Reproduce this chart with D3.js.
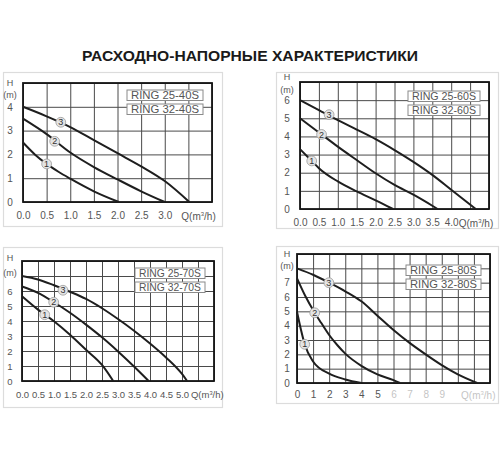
<!DOCTYPE html>
<html><head><meta charset="utf-8">
<script src="https://cdn.jsdelivr.net/npm/d3@7"></script>
<style>body{margin:0;background:#fff}svg{display:block}</style>
</head><body>
<svg id="c" width="500" height="450"></svg>
<script>
// ---------- DATA ----------
const title = "РАСХОДНО-НАПОРНЫЕ ХАРАКТЕРИСТИКИ";
const curveNames = ["1", "2", "3"];

// Panel 1: RING 25-40S / 32-40S
const p1Models = ["RING 25-40S", "RING 32-40S"];
const p1XTicks = [0, 0.5, 1.0, 1.5, 2.0, 2.5, 3.0];
const p1YTicks = [0, 1, 2, 3, 4];
const p1Q1 = [0, 0.25, 0.5, 0.75, 1.0, 1.5, 2.03];
const p1H1 = [2.5, 2.0, 1.6, 1.27, 0.98, 0.45, 0];
const p1Q2 = [0, 0.5, 1.0, 1.5, 2.0, 2.5, 3.0];
const p1H2 = [3.5, 2.85, 2.08, 1.47, 0.95, 0.45, 0];
const p1Q3 = [0, 0.5, 1.0, 1.5, 2.0, 2.5, 3.0, 3.52];
const p1H3 = [4.0, 3.6, 3.15, 2.6, 2.05, 1.5, 0.88, 0];
const p1LabelQ = [0.5, 0.67, 0.8];
const p1LabelH = [1.6, 2.55, 3.35];

// Panel 2: RING 25-60S / 32-60S
const p2Models = ["RING 25-60S", "RING 32-60S"];
const p2XTicks = [0, 0.5, 1.0, 1.5, 2.0, 2.5, 3.0, 3.5, 4.0];
const p2YTicks = [0, 1, 2, 3, 4, 5, 6];
const p2Q1 = [0, 0.31, 0.5, 1.0, 1.5, 2.0, 2.46];
const p2H1 = [3.3, 2.65, 2.25, 1.52, 0.97, 0.48, 0];
const p2Q2 = [0, 0.57, 1.0, 1.5, 2.0, 2.5, 3.0, 3.5, 3.64];
const p2H2 = [5.0, 4.11, 3.44, 2.7, 1.97, 1.33, 0.79, 0.18, 0];
const p2Q3 = [0, 0.5, 1.0, 1.5, 2.0, 2.5, 3.0, 3.5, 4.0, 4.65];
const p2H3 = [6.0, 5.45, 4.9, 4.38, 3.85, 3.25, 2.6, 1.88, 1.06, 0];
const p2LabelQ = [0.31, 0.57, 0.77];
const p2LabelH = [2.65, 4.11, 5.2];

// Panel 3: RING 25-70S / 32-70S
const p3Models = ["RING 25-70S", "RING 32-70S"];
const p3XTicks = [0, 0.5, 1.0, 1.5, 2.0, 2.5, 3.0, 3.5, 4.0, 4.5, 5.0];
const p3YTicks = [0, 1, 2, 3, 4, 5, 6];
const p3Q1 = [0, 0.5, 1.0, 1.5, 2.0, 2.5, 2.85];
const p3H1 = [5.65, 4.76, 3.98, 3.08, 2.08, 1.07, 0];
const p3Q2 = [0, 0.5, 1.0, 1.5, 2.0, 2.5, 3.0, 3.5, 3.96];
const p3H2 = [6.3, 5.88, 5.25, 4.55, 3.76, 2.91, 1.97, 0.97, 0];
const p3Q3 = [0, 0.5, 1.0, 1.5, 2.0, 2.5, 3.0, 3.5, 4.0, 4.5, 5.0, 5.16];
const p3H3 = [7.0, 6.77, 6.38, 5.95, 5.47, 4.85, 4.13, 3.35, 2.5, 1.57, 0.47, 0];
const p3LabelQ = [0.71, 0.99, 1.28];
const p3LabelH = [4.42, 5.25, 6.05];

// Panel 4: RING 25-80S / 32-80S
const p4Models = ["RING 25-80S", "RING 32-80S"];
const p4XTicks = [0, 1, 2, 3, 4, 5, 6, 7, 8, 9];
const p4YTicks = [0, 1, 2, 3, 4, 5, 6, 7];
const p4Q1 = [0, 0.25, 0.48, 1, 2, 3, 4];
const p4H1 = [4.97, 3.7, 2.7, 1.5, 0.65, 0.25, 0];
const p4Q2 = [0, 0.5, 1.1, 1.5, 2, 2.5, 3, 4, 5, 6, 6.4];
const p4H2 = [7.3, 6.1, 4.9, 4.2, 3.35, 2.65, 2.05, 1.2, 0.6, 0.2, 0];
const p4Q3 = [0, 1, 2, 3, 4, 5, 6, 7, 8, 9, 10, 11.2];
const p4H3 = [8.0, 7.55, 7.0, 6.4, 5.7, 4.7, 3.7, 2.8, 2.0, 1.25, 0.6, 0];
const p4LabelQ = [0.48, 1.1, 1.98];
const p4LabelH = [2.7, 4.9, 7.0];

// ---------- LAYOUT ----------
const panels = [
  {models:p1Models, xTicks:p1XTicks, yTicks:p1YTicks, fmt:d3.format(".1f"),
   curves:[[p1Q1,p1H1],[p1Q2,p1H2],[p1Q3,p1H3]], lq:p1LabelQ, lh:p1LabelH,
   outer:[3,72,219,154], plot:{l:23,t:83,r:212,b:202}, xDom:[0,4], xStep:0.5, yDom:[0,5],
   hAt:5.0, mAt:4.5, qAt:3.35, xPad:10, yLab:13, fs:10, lgTop:7, lgW:76},
  {models:p2Models, xTicks:p2XTicks, yTicks:p2YTicks, fmt:d3.format(".1f"),
   curves:[[p2Q1,p2H1],[p2Q2,p2H2],[p2Q3,p2H3]], lq:p2LabelQ, lh:p2LabelH,
   outer:[276,72,222,156], plot:{l:300,t:82,r:489,b:209}, xDom:[0,5], xStep:0.5, yDom:[0,7],
   hAt:7.3, mAt:6.55, qAt:4.2, xPad:10, yLab:13, fs:10, lgTop:9, lgW:72},
  {models:p3Models, xTicks:p3XTicks, yTicks:p3YTicks, fmt:d3.format(".1f"),
   curves:[[p3Q1,p3H1],[p3Q2,p3H2],[p3Q3,p3H3]], lq:p3LabelQ, lh:p3LabelH,
   outer:[3,247,219,160], plot:{l:22,t:261,r:214,b:381}, xDom:[0,6], xStep:0.5, yDom:[0,8],
   hAt:8.2, mAt:7.2, qAt:5.28, xPad:10, yLab:12, fs:9.5, lgTop:7, lgW:70},
  {models:p4Models, xTicks:p4XTicks, yTicks:p4YTicks, fmt:d3.format("d"),
   curves:[[p4Q1,p4H1],[p4Q2,p4H2],[p4Q3,p4H3]], lq:p4LabelQ, lh:p4LabelH,
   outer:[276,246,222,157], plot:{l:297,t:254,r:490,b:383}, xDom:[0,12], xStep:1, yDom:[0,9],
   hAt:9.0, mAt:8.2, qAt:10.2, xPad:8, yLab:10, fs:10, lgTop:11, lgW:75, faded:5}
];

const svg = d3.select("#c");
const FONT = "'Liberation Sans', Arial, sans-serif";

svg.append("text").attr("x", 250).attr("y", 60.5).attr("text-anchor", "middle")
  .attr("font-family", FONT).attr("font-weight", "bold").attr("font-size", 15.5)
  .attr("textLength", 336).attr("lengthAdjust", "spacingAndGlyphs")
  .attr("fill", "#1a1a1a").text(title);

panels.forEach(p => {
  const g = svg.append("g");
  const o = p.outer;
  g.append("rect").attr("x", o[0]+0.5).attr("y", o[1]+0.5).attr("width", o[2]).attr("height", o[3])
    .attr("fill", "none").attr("stroke", "#dcdcdc").attr("stroke-width", 1.2);

  const x = d3.scaleLinear().domain(p.xDom).range([p.plot.l, p.plot.r]);
  const y = d3.scaleLinear().domain(p.yDom).range([p.plot.b, p.plot.t]);
  const h = p.plot.b - p.plot.t, w = p.plot.r - p.plot.l;

  // grid
  const gx = d3.range(p.xDom[0], p.xDom[1] + 1e-9, p.xStep);
  const gy = d3.range(p.yDom[0], p.yDom[1] + 1e-9, 1);
  const gridX = g.append("g").attr("transform", `translate(0,${p.plot.b})`)
    .call(d3.axisBottom(x).tickValues(gx).tickSize(-h).tickFormat(""));
  const gridY = g.append("g").attr("transform", `translate(${p.plot.l},0)`)
    .call(d3.axisLeft(y).tickValues(gy).tickSize(-w).tickFormat(""));
  [gridX, gridY].forEach(a => {
    a.select(".domain").remove();
    a.selectAll("line").attr("stroke", "#4a4a4a").attr("stroke-width", 1);
  });

  // border
  g.append("rect").attr("x", p.plot.l).attr("y", p.plot.t).attr("width", w).attr("height", h)
    .attr("fill", "none").attr("stroke", "#151515").attr("stroke-width", 1.8);

  // legend boxes
  p.models.forEach((m, i) => {
    const bx = p.plot.r - 9 - p.lgW, by = p.plot.t + p.lgTop + i * 14;
    g.append("rect").attr("x", bx).attr("y", by).attr("width", p.lgW).attr("height", 10.5)
      .attr("fill", "#fff").attr("stroke", "#8a8a8a").attr("stroke-width", 1);
    g.append("text").attr("x", bx + p.lgW/2).attr("y", by + 9.3).attr("text-anchor", "middle")
      .attr("font-family", FONT).attr("font-size", 11).attr("fill", "#555")
      .attr("textLength", p.lgW - 8).attr("lengthAdjust", "spacingAndGlyphs").text(m);
  });

  // curves
  const line = d3.line().x(d => x(d[0])).y(d => y(d[1])).curve(d3.curveMonotoneX);
  p.curves.forEach(([qs, hs]) => {
    g.append("path").datum(qs.map((q, i) => [q, hs[i]])).attr("d", line)
      .attr("fill", "none").attr("stroke", "#1e1e1e").attr("stroke-width", 2);
  });

  // curve number labels
  curveNames.forEach((n, i) => {
    const cx = x(p.lq[i]), cy = y(p.lh[i]);
    g.append("circle").attr("cx", cx).attr("cy", cy).attr("r", 4.9)
      .attr("fill", "#e4e4e4").attr("stroke", "#9a9a9a").attr("stroke-width", 0.8);
    g.append("text").attr("x", cx).attr("y", cy + 3.1).attr("text-anchor", "middle")
      .attr("font-family", FONT).attr("font-size", 9).attr("fill", "#333").text(n);
  });

  // x axis labels
  const ax = g.append("g").attr("transform", `translate(0,${p.plot.b})`)
    .call(d3.axisBottom(x).tickValues(p.xTicks).tickSize(0).tickPadding(p.xPad).tickFormat(p.fmt));
  ax.select(".domain").remove();
  ax.selectAll("text").attr("font-family", FONT).attr("font-size", p.fs).attr("fill", "#555")
    .attr("opacity", d => (p.faded !== undefined && d > p.faded) ? 0.35 : 1);
  const qt = g.append("text").attr("x", x(p.qAt)).attr("y", p.plot.b + p.xPad + p.fs*0.72 + 0.5)
    .attr("font-family", FONT).attr("font-size", p.fs).attr("fill", "#555")
    .attr("opacity", p.faded !== undefined ? 0.35 : 1);
  qt.append("tspan").text("Q(m");
  qt.append("tspan").attr("font-size", p.fs*0.6).attr("dy", -3.5).text("3");
  qt.append("tspan").attr("dy", 3.5).text("/h)");

  // y axis labels
  const ay = g.append("g").attr("transform", `translate(${p.plot.l - p.yLab},0)`)
    .call(d3.axisLeft(y).tickValues(p.yTicks).tickSize(0).tickPadding(0).tickFormat(d3.format("d")));
  ay.select(".domain").remove();
  ay.selectAll("text").attr("text-anchor", "middle").attr("font-family", FONT)
    .attr("font-size", p.fs).attr("fill", "#555");
  g.append("text").attr("x", p.plot.l - p.yLab).attr("y", y(p.hAt) + 3.2).attr("text-anchor", "middle")
    .attr("font-family", FONT).attr("font-size", 9).attr("fill", "#555").text("H");
  g.append("text").attr("x", p.plot.l - p.yLab).attr("y", y(p.mAt) + 3.2).attr("text-anchor", "middle")
    .attr("font-family", FONT).attr("font-size", 9).attr("fill", "#555").text("(m)");
});
</script>
</body></html>
